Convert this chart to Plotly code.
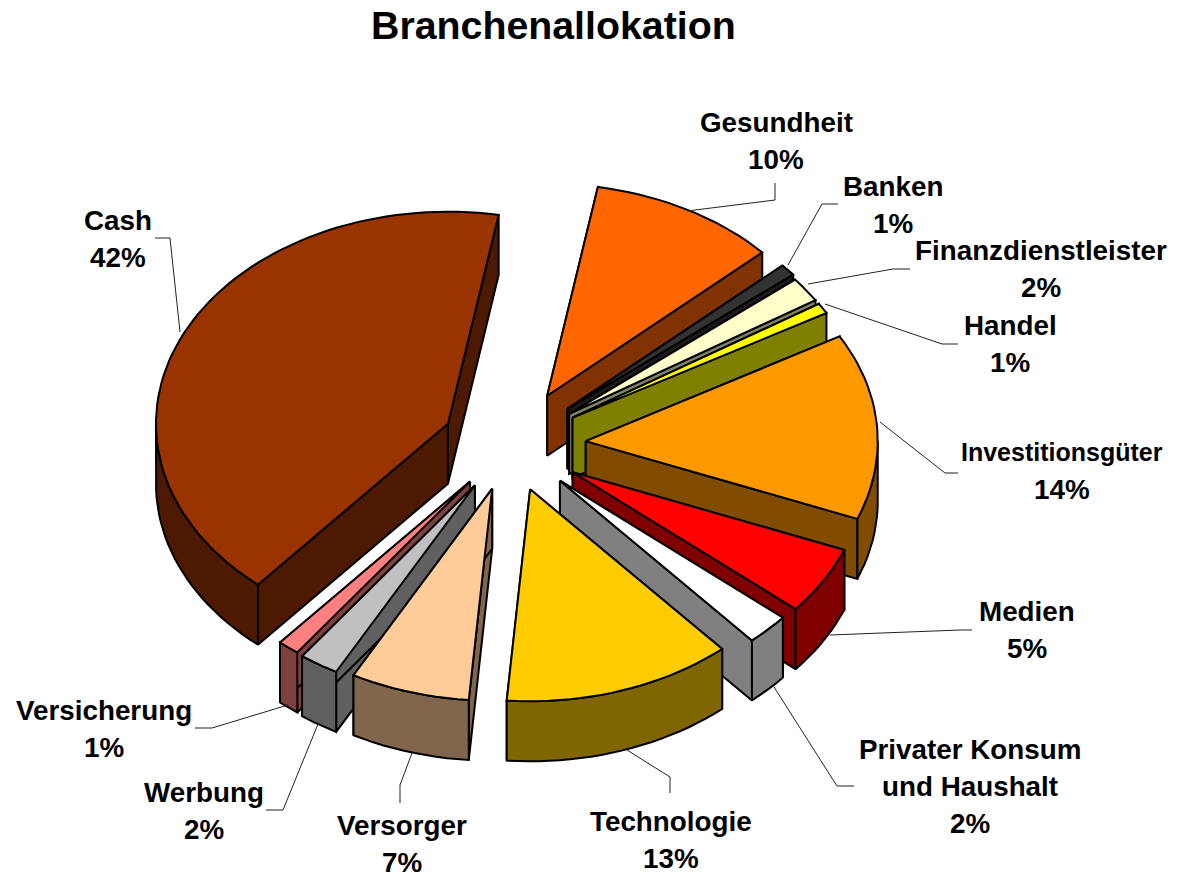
import math
import plotly.graph_objects as go

# --- data -----------------------------------------------------------------
categories = ["Gesundheit", "Banken", "Finanzdienstleister", "Handel", "Investitionsgüter", "Medien",
              "Privater Konsum und Haushalt", "Technologie", "Versorger", "Werbung", "Versicherung", "Cash"]
values = [10.4, 0.9, 1.9, 0.8, 14.2, 5.2, 2.4, 12.7, 6.6, 2.2, 1.2, 41.5]
top_colors = ["#FF6600", "#333333", "#FFFFCC", "#FFFF00", "#FF9900", "#FF0000",
              "#FFFFFF", "#FFCC00", "#FFCC99", "#C0C0C0", "#FF8080", "#993300"]
side_colors = ["#803300", "#1A1A1A", "#808066", "#808000", "#804D00", "#800000",
               "#808080", "#806600", "#80664D", "#606060", "#804040", "#4D1900"]
label_lines = [["Gesundheit"], ["Banken"], ["Finanzdienstleister"], ["Handel"], ["Investitionsgüter"], ["Medien"],
               ["Privater Konsum", "und Haushalt"], ["Technologie"], ["Versorger"], ["Werbung"], ["Versicherung"], ["Cash"]]

# --- layout / geometry ----------------------------------------------------
WIDTH, HEIGHT = 1194, 880
CX, CY = 510, 445
RX, RY = 292, 212
DEPTH = 60
START_DEG = 10
explode = [0.265, 0.26, 0.25, 0.25, 0.26, 0.25, 0.24, 0.22, 0.215, 0.225, 0.22, 0.235]
label_x = [776, 893, 1041, 1010, 1062, 1027, 970, 671, 402, 204, 104, 118]
label_y = [122, 186, 250, 325, 452, 611, 749, 821, 825, 792, 710, 220]
label_size = 27.8
narrow_label_size = {"Investitionsgüter": 25}
LINE_GAP = 37
FONT = "Liberation Sans, Arial, sans-serif"
leaders = [
    [(687, 211), (775, 200), (775, 183)],
    [(788, 265), (822, 204), (838, 204)],
    [(808, 284), (893, 269), (910, 269)],
    [(825, 304), (942, 344), (958, 344)],
    [(880, 422), (945, 473), (958, 473)],
    [(830, 635), (960, 630), (972, 630)],
    [(774, 687), (837, 786), (854, 786)],
    [(627, 750), (670, 777), (670, 793)],
    [(412, 753), (400, 785), (400, 803)],
    [(318, 724), (283, 810), (266, 810)],
    [(288, 705), (212, 728), (195, 728)],
    [(180, 332), (170, 238), (155, 238)],
]


def point(cx, cy, deg, depth=0):
    a = math.radians(deg)
    return cx + RX * math.sin(a), cy - RY * math.cos(a) + depth


def poly(pts, fill):
    xs = [p[0] for p in pts] + [pts[0][0]]
    ys = [p[1] for p in pts] + [pts[0][1]]
    return go.Scatter(x=xs, y=ys, mode="lines", fill="toself", fillcolor=fill,
                      line=dict(color="#000000", width=2), hoverinfo="skip", showlegend=False)


def arc_angles(a0, a1):
    n = max(2, int((a1 - a0) / 2))
    return [a0 + (a1 - a0) * k / n for k in range(n + 1)]


total = sum(values)
slices = []
angle = START_DEG
for i, v in enumerate(values):
    span = 360 * v / total
    slices.append((i, angle, angle + span))
    angle += span

fig = go.Figure()

# painter's order: back slices first, front slices last
for i, a0, a1 in sorted(slices, key=lambda s: abs(((s[1] + s[2]) / 2) % 360 - 180), reverse=True):
    mid = (a0 + a1) / 2
    ax, ay = point(0, 0, mid)
    cx = CX + explode[i] * ax
    cy = CY + explode[i] * ay
    top_arc = [point(cx, cy, d) for d in arc_angles(a0, a1)]
    apex, apex_b = (cx, cy), (cx, cy + DEPTH)
    fig.add_trace(poly([apex, top_arc[0], point(cx, cy, a0, DEPTH), apex_b], side_colors[i]))
    fig.add_trace(poly([apex, top_arc[-1], point(cx, cy, a1, DEPTH), apex_b], side_colors[i]))
    # the rim only faces the viewer on the near half of the ellipse
    r0, r1 = max(a0, 90), min(a1, 270)
    if r1 > r0:
        rim = arc_angles(r0, r1)
        fig.add_trace(poly([point(cx, cy, d) for d in rim] + [point(cx, cy, d, DEPTH) for d in rim[::-1]],
                           side_colors[i]))
    fig.add_trace(poly([apex] + top_arc, top_colors[i]))

annotations = [dict(x=553, y=25, text="Branchenallokation", showarrow=False, xref="x", yref="y",
                    font=dict(family=FONT, size=39.3, color="#000000", weight="bold"))]
for i, v in enumerate(values):
    rows = label_lines[i] + [f"{round(v)}%"]
    for r, row in enumerate(rows):
        annotations.append(dict(x=label_x[i], y=label_y[i] + r * LINE_GAP, text=row, showarrow=False,
                                xref="x", yref="y", xanchor="center", yanchor="middle",
                                font=dict(family=FONT, size=narrow_label_size.get(row, label_size),
                                          color="#000000", weight="bold")))

shapes = [dict(type="path", xref="x", yref="y", layer="above",
               path="M" + " L".join(f"{x},{y}" for x, y in pts),
               line=dict(color="#222222", width=1)) for pts in leaders]

fig.update_layout(
    width=WIDTH, height=HEIGHT, margin=dict(l=0, r=0, t=0, b=0),
    paper_bgcolor="#FFFFFF", plot_bgcolor="#FFFFFF", showlegend=False,
    xaxis=dict(range=[0, WIDTH], visible=False, fixedrange=True),
    yaxis=dict(range=[HEIGHT, 0], visible=False, fixedrange=True),
    annotations=annotations, shapes=shapes,
)
fig.write_html("out.html", config=dict(displayModeBar=False),
               post_script="document.body.style.margin='0';document.body.style.overflow='hidden';")
